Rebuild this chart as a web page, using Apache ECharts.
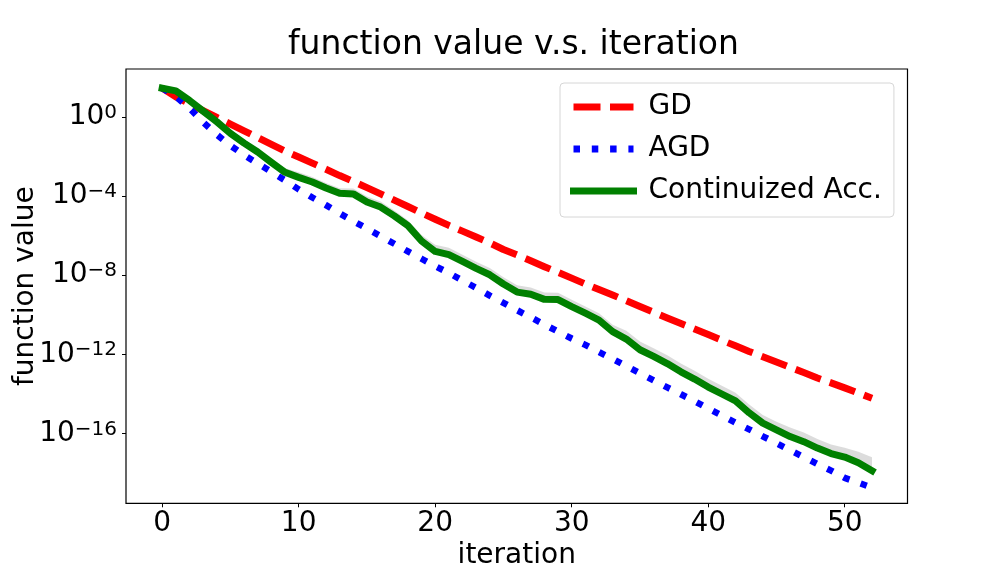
<!DOCTYPE html>
<html>
<head>
<meta charset="utf-8">
<script src="https://cdn.jsdelivr.net/npm/echarts@6/dist/echarts.min.js"></script>
<style>
html,body{margin:0;padding:0;background:#fff}
#main{width:1008px;height:576px}
</style>
</head>
<body>
<div id="main"></div>
<script>
var FONT = 'DejaVu Sans';

var iterations = [0,1,2,3,4,5,6,7,8,9,10,11,12,13,14,15,16,17,18,19,20,21,22,23,24,25,26,
  27,28,29,30,31,32,33,34,35,36,37,38,39,40,41,42,43,44,45,46,47,48,49,50,51,52];

// GD
var gdValues = [2.9e1,1.05e1,4.7e0,2.1e0,9.5e-1,4.4e-1,2.0e-1,9.1e-2,4.1e-2,1.9e-2,
  9.5e-3,4.7e-3,2.3e-3,1.1e-3,5.5e-4,2.7e-4,1.3e-4,6.3e-5,3.0e-5,1.4e-5,
  6.8e-6,3.3e-6,1.7e-6,8.5e-7,4.3e-7,2.0e-7,1.05e-7,5.4e-8,2.7e-8,1.4e-8,
  7.1e-9,3.6e-9,1.9e-9,1.0e-9,5.1e-10,2.6e-10,1.35e-10,6.9e-11,3.6e-11,1.9e-11,
  1.0e-11,5.1e-12,2.7e-12,1.4e-12,7.6e-13,4.1e-13,2.2e-13,1.2e-13,6.3e-14,3.6e-14,
  2.0e-14,1.1e-14,6.0e-15];

// AGD
var agdValues = [2.9e1,1.1e1,2.8e0,5.5e-1,1.3e-1,3.6e-2,1.2e-2,4.5e-3,1.7e-3,6.3e-4,
  2.2e-4,8.5e-5,3.5e-5,1.35e-5,5.4e-6,2.3e-6,9.5e-7,3.9e-7,1.6e-7,6.8e-8,
  2.9e-8,1.3e-8,5.4e-9,2.3e-9,9.3e-10,4.0e-10,1.7e-10,7.4e-11,3.2e-11,1.4e-11,
  6.3e-12,3.0e-12,1.3e-12,5.8e-13,2.5e-13,1.1e-13,4.8e-14,2.1e-14,9.5e-15,4.2e-15,
  1.8e-15,7.9e-16,3.5e-16,1.6e-16,7.1e-17,3.2e-17,1.4e-17,6.3e-18,2.8e-18,1.3e-18,
  5.6e-19,3.2e-19,1.8e-19];

// Continuized Acc. (mean)
var contValues = [2.9e1,2.1e1,6.9e0,2.0e0,5.8e-1,1.5e-1,4.8e-2,1.7e-2,5.1e-3,1.6e-3,
  8.9e-4,5.2e-4,2.6e-4,1.4e-4,1.3e-4,5.1e-5,2.8e-5,1.0e-5,3.2e-6,5.4e-7,
  1.6e-7,1.1e-7,5.0e-8,2.2e-8,1.05e-8,3.6e-9,1.4e-9,1.1e-9,6.0e-10,5.9e-10,
  2.6e-10,1.2e-10,5.4e-11,1.4e-11,5.9e-12,1.7e-12,7.8e-13,3.4e-13,1.3e-13,5.6e-14,
  2.2e-14,9.8e-15,4.4e-15,1.1e-15,3.3e-16,1.5e-16,6.9e-17,3.8e-17,1.8e-17,9.5e-18,
  6.3e-18,3.3e-18,1.3e-18];

// upper edge of the shaded band, as a factor over the mean
var contSpreadUp = [1.12,1.12,1.12,1.12,1.12,1.12,1.26,1.26,1.26,1.6,
  1.8,1.8,1.8,1.8,1.9,1.9,1.9,1.9,1.9,2.0,
  2.2,2.2,2.2,2.2,2.2,2.2,2.2,2.2,2.2,2.2,
  2.2,2.2,2.2,2.2,2.6,2.6,2.6,2.6,2.6,2.6,
  2.6,2.6,2.6,2.6,2.6,2.6,2.9,2.9,2.9,2.9,
  3.0,3.6,4.8];

var xTicks = [0,10,20,30,40,50];
var yTicks = [1e-16,1e-12,1e-8,1e-4,1];

function pairs(vals) {
  return iterations.map(function (x, i) { return [x, vals[i]]; });
}

var chart = echarts.init(document.getElementById('main'), null, {renderer: 'canvas'});

var option = {
  animation: false,
  backgroundColor: '#fff',
  title: {
    text: 'function value v.s. iteration',
    left: 288,
    top: 29,
    padding: 0,
    textStyle: {fontFamily: FONT, fontSize: 33, fontWeight: 'normal', color: '#000', lineHeight: 33}
  },
  grid: {
    left: 126, top: 69, right: 100.5, bottom: 72.7,
    containLabel: false,
    outerBoundsMode: 'none',
    show: true, borderColor: '#000', borderWidth: 1.2, backgroundColor: 'transparent'
  },
  legend: {
    orient: 'vertical',
    left: 560, top: 83,
    itemWidth: 60, itemHeight: 28, itemGap: 14,
    padding: [10, 12, 12, 10],
    backgroundColor: '#fff',
    borderColor: '#d6d6d6', borderWidth: 1, borderRadius: 4,
    lineStyle: {width: 7},
    itemStyle: {opacity: 0},
    textStyle: {fontFamily: FONT, fontSize: 28, color: '#000', padding: [0, 0, 0, 10], lineHeight: 28},
    data: ['GD', 'AGD', 'Continuized Acc.']
  },
  xAxis: {
    type: 'value',
    min: -2.65, max: 54.6,
    name: 'iteration',
    nameLocation: 'middle',
    nameGap: 38,
    nameMoveOverlap: false,
    nameTextStyle: {fontFamily: FONT, fontSize: 28, color: '#000', lineHeight: 28},
    axisLine: {show: false, onZero: false},
    axisTick: {show: true, inside: false, length: 4, customValues: xTicks, lineStyle: {color: '#000', width: 1}},
    axisLabel: {show: true, customValues: xTicks, margin: 6, fontFamily: FONT, fontSize: 28, color: '#000', lineHeight: 28},
    splitLine: {show: false}
  },
  yAxis: {
    type: 'log',
    logBase: 10,
    min: 2.9e-20, max: 270,
    name: 'function value',
    nameLocation: 'middle',
    nameGap: 86,
    nameMoveOverlap: false,
    nameTextStyle: {fontFamily: FONT, fontSize: 28, color: '#000', lineHeight: 28},
    axisLine: {show: false, onZero: false},
    axisTick: {show: true, inside: false, length: 4, customValues: yTicks, lineStyle: {color: '#000', width: 1}},
    axisLabel: {
      show: true,
      customValues: yTicks,
      margin: 9,
      formatter: function (v) {
        var e = Math.round(Math.log10(v));
        var s = e < 0 ? '\u2212' + (-e) : '' + e;
        return '{b|10}{s|' + s + '}';
      },
      rich: {
        b: {fontFamily: FONT, fontSize: 28, color: '#000', lineHeight: 28, verticalAlign: 'bottom'},
        s: {fontFamily: FONT, fontSize: 20, color: '#000', lineHeight: 20, verticalAlign: 'top', padding: [0, 0, 11, 0]}
      }
    },
    splitLine: {show: false},
    minorTick: {show: false}
  },
  series: [
    {
      name: 'GD',
      type: 'line',
      data: pairs(gdValues),
      showSymbol: false, symbol: 'none',
      color: '#ff0000',
      lineStyle: {color: '#ff0000', width: 7, type: [27, 9.5], cap: 'butt', join: 'round'},
      z: 2
    },
    {
      name: 'AGD',
      type: 'line',
      data: pairs(agdValues),
      showSymbol: false, symbol: 'none',
      color: '#0000ff',
      lineStyle: {color: '#0000ff', width: 6.5, type: [6.5, 11.8], cap: 'butt', join: 'round'},
      z: 3
    },
    {
      name: 'band',
      type: 'custom',
      data: pairs(contValues),
      silent: true,
      z: 4,
      renderItem: function (params, api) {
        if (params.dataIndex !== 0) return;
        var pts = [];
        for (var i = 0; i < iterations.length; i++) {
          pts.push(api.coord([iterations[i], contValues[i] * contSpreadUp[i]]));
        }
        for (var j = iterations.length - 1; j >= 0; j--) {
          pts.push(api.coord([iterations[j], contValues[j]]));
        }
        return {
          type: 'polygon',
          shape: {points: pts},
          style: {fill: 'rgba(128,128,128,0.28)', stroke: null}
        };
      }
    },
    {
      name: 'Continuized Acc.',
      type: 'line',
      data: pairs(contValues),
      showSymbol: false, symbol: 'none',
      color: '#008000',
      lineStyle: {color: '#008000', width: 7, cap: 'square', join: 'round'},
      z: 5
    }
  ]
};

chart.setOption(option);
</script>
</body>
</html>
